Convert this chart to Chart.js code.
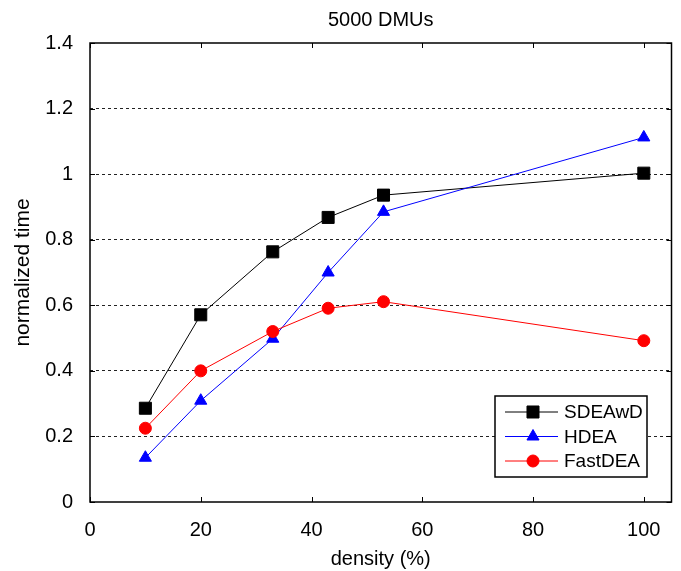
<!DOCTYPE html>
<html>
<head>
<meta charset="utf-8">
<script src="https://cdn.jsdelivr.net/npm/chart.js@4.4.1/dist/chart.umd.min.js"></script>
<style>
  html, body { margin: 0; padding: 0; background: #fff; }
  #wrap { width: 681px; height: 571px; }
</style>
</head>
<body>
<div id="wrap"><canvas id="chart"></canvas></div>
<script>
// densidad (%) en el eje x
const densities = [10, 20, 33, 43, 53, 100];
const sdeawd = [0.286, 0.571, 0.763, 0.868, 0.936, 1.003];
const hdea = [0.135, 0.309, 0.498, 0.700, 0.885, 1.112];
const fastdea = [0.225, 0.400, 0.520, 0.591, 0.611, 0.492];

const xTicks = [0, 20, 40, 60, 80, 100];
const yTicks = [0, 0.2, 0.4, 0.6, 0.8, 1, 1.2, 1.4];

const FONT = "'Liberation Sans', Arial, sans-serif";

const toPoints = (ys) => densities.map((d, i) => ({ x: d, y: ys[i] }));

// marco, ticks hacia adentro y leyenda dentro del area
const frame = {
  id: 'frame',
  afterDraw(chart) {
    const { ctx, chartArea: a, scales: { x, y } } = chart;
    ctx.save();
    ctx.strokeStyle = '#000';
    ctx.lineWidth = 1;
    ctx.beginPath();
    xTicks.forEach(v => {
      const px = Math.round(x.getPixelForValue(v)) + 0.5;
      ctx.moveTo(px, a.bottom); ctx.lineTo(px, a.bottom - 5);
      ctx.moveTo(px, a.top); ctx.lineTo(px, a.top + 5);
    });
    yTicks.forEach(v => {
      const py = Math.round(y.getPixelForValue(v)) + 0.5;
      ctx.moveTo(a.left, py); ctx.lineTo(a.left + 5, py);
      ctx.moveTo(a.right, py); ctx.lineTo(a.right - 5, py);
    });
    ctx.stroke();

    ctx.lineWidth = 1.5;
    ctx.strokeRect(a.left, a.top, a.right - a.left, a.bottom - a.top);

    // leyenda
    const lx = 495, ly = 396, lw = 152, lh = 81;
    ctx.fillStyle = '#fff';
    ctx.fillRect(lx, ly, lw, lh);
    ctx.strokeRect(lx, ly, lw, lh);
    ctx.font = '19px ' + FONT;
    ctx.textBaseline = 'middle';
    ctx.textAlign = 'left';
    chart.data.datasets.forEach((ds, i) => {
      const cy = ly + 16 + i * 24.5;
      ctx.strokeStyle = ds.borderColor;
      ctx.lineWidth = 1;
      ctx.beginPath();
      ctx.moveTo(lx + 10, cy); ctx.lineTo(lx + 63, cy);
      ctx.stroke();
      ctx.fillStyle = ds.pointBackgroundColor;
      ctx.strokeStyle = ds.pointBackgroundColor;
      Chart.helpers.drawPoint(ctx, { pointStyle: ds.pointStyle, rotation: 0, radius: ds.pointRadius, borderWidth: 1 }, lx + 38, cy);
      ctx.fillStyle = '#000';
      ctx.fillText(ds.label, lx + 69, cy + 1);
    });
    ctx.restore();
  }
};

new Chart(document.getElementById('chart'), {
  type: 'line',
  data: {
    datasets: [
      {
        label: 'SDEAwD', data: toPoints(sdeawd),
        borderColor: '#000', borderWidth: 1,
        pointStyle: 'rect', pointRadius: 8.5,
        pointBackgroundColor: '#000', pointBorderColor: '#000',
        order: 2
      },
      {
        label: 'HDEA', data: toPoints(hdea),
        borderColor: '#0000ff', borderWidth: 1,
        pointStyle: 'triangle', pointRadius: 7,
        pointBackgroundColor: '#0000ff', pointBorderColor: '#0000ff',
        order: 1
      },
      {
        label: 'FastDEA', data: toPoints(fastdea),
        borderColor: '#ff0000', borderWidth: 1,
        pointStyle: 'circle', pointRadius: 6,
        pointBackgroundColor: '#ff0000', pointBorderColor: '#ff0000',
        order: 0
      }
    ]
  },
  options: {
    responsive: true,
    maintainAspectRatio: false,
    animation: false,
    devicePixelRatio: 1,
    layout: { padding: { top: 0, right: 9, bottom: 0, left: 0 } },
    plugins: {
      legend: { display: false },
      tooltip: { enabled: false },
      title: {
        display: true,
        fullSize: false,
        text: '5000 DMUs',
        color: '#000',
        font: { family: FONT, size: 20, weight: 'normal', lineHeight: 1.2 },
        padding: { top: 8, bottom: 11 }
      }
    },
    scales: {
      x: {
        type: 'linear', min: 0, max: 105,
        afterBuildTicks: (s) => { s.ticks = xTicks.map(v => ({ value: v })); },
        afterFit: (s) => { s.height = 69; },
        grid: { display: false, drawTicks: false },
        border: { display: false },
        ticks: { color: '#000', font: { family: FONT, size: 20 }, padding: 16, maxRotation: 0 },
        title: { display: true, text: 'density (%)', color: '#000', font: { family: FONT, size: 20 }, padding: { top: 0, bottom: 0 } }
      },
      y: {
        min: 0, max: 1.4,
        afterBuildTicks: (s) => { s.ticks = yTicks.map(v => ({ value: v })); },
        afterFit: (s) => { s.width = 90; },
        grid: {
          drawTicks: false,
          color: (c) => (c.tick && (c.tick.value === 0 || c.tick.value === 1.4)) ? 'rgba(0,0,0,0)' : '#222',
          lineWidth: 1
        },
        border: { display: false, dash: [3, 3] },
        ticks: { color: '#000', font: { family: FONT, size: 20 }, padding: 17, callback: (v) => String(v) },
        title: { display: true, text: 'normalized time', color: '#000', font: { family: FONT, size: 21 }, padding: { top: 11, bottom: 0 } }
      }
    }
  },
  plugins: [frame]
});
</script>
</body>
</html>
